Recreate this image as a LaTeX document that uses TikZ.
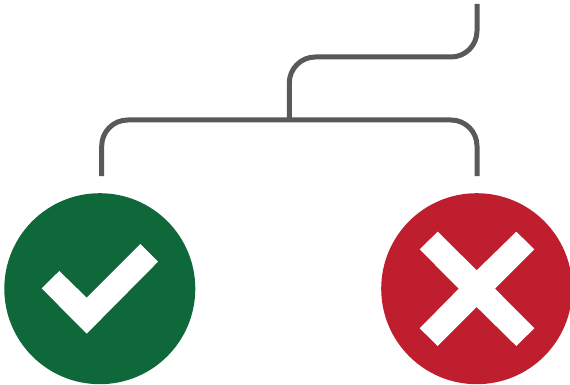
\documentclass[tikz,border=0pt]{standalone}
\usepackage{xcolor}
\usepackage{tikz}
\definecolor{spLine}{HTML}{58595B}
\definecolor{spGood}{HTML}{0F6839}
\definecolor{spBad}{HTML}{BE1E2D}
\tikzset{
  resultdot/.style={circle,minimum size=191pt,inner sep=0pt,draw=none},
  gooddot/.style={resultdot,fill=spGood},
  baddot/.style={resultdot,fill=spBad},
  wire/.style={line width=5pt,color=spLine,rounded corners=26pt},
  glyph/.style={fill=white,draw=none},
}

\begin{document}
\begin{tikzpicture}[x=1pt,y=-1pt]

  \useasboundingbox (0,0) rectangle (570,385);

  \node[gooddot] (good) at (99.8,288.7) {};
  \node[baddot] (bad) at (476.7,288.7) {};

  \coordinate (start) at (477,4);
  \coordinate (fork) at (289.3,120);
  \coordinate (goodend) at (101.7,176);
  \coordinate (badend) at (477,176);

  \draw[wire] (start) |- (289.3,57) -- (fork);
  \draw[wire] (goodend) |- (fork) -| (badend);

  % check mark
  \fill[glyph] (41.7,288.3) -- (59.3,271) -- (86.7,297.7) -- (140.3,244)
    -- (158,261.7) -- (86.7,333.7) -- cycle;

  % cross
  \fill[glyph] (437.7,231.7) -- (419.7,249.3) -- (458.7,288.7) -- (419.7,328.3)
    -- (437.7,346) -- (476.7,307) -- (516.3,346) -- (534.3,328.3)
    -- (495,288.7) -- (534.3,249.3) -- (516.3,231.7) -- (476.7,270.3) -- cycle;

\end{tikzpicture}
\end{document}
